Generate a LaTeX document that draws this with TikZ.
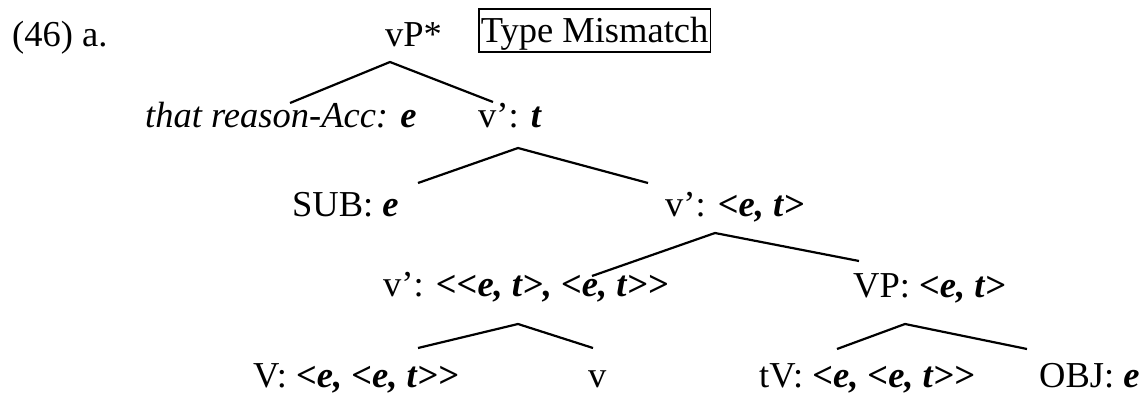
\documentclass[tikz,border=0pt]{standalone}
\usepackage{fontspec}
\setmainfont{Liberation Serif}[Ligatures=TeXOff]
\newcommand{\ty}[1]{\textbf{\textit{#1}}}
\begin{document}
\begin{tikzpicture}[x=1pt,y=-1pt,
  lbl/.style={anchor=base west,inner sep=0pt,font=\fontsize{36.5}{40}\selectfont},
  branch/.style={line width=2.2pt}]
\useasboundingbox (0,0) rectangle (1144,393);
% labels
\node[lbl] (ex) at (12,47) {(46) a.};
\node[lbl] (vP) at (385,47) {vP*};
\node[lbl,draw,line width=1.6pt,inner xsep=2pt,inner ysep=1pt,text height=33pt,text depth=8pt] (tm) at (478,43) {Type Mismatch};
\node[lbl] (reason) at (145,128) {\textit{that reason-Acc:} \ty{e}};
\node[lbl] (vbar1) at (478,128) {v’: \ty{t}};
\node[lbl] (sub) at (292,216) {SUB: \ty{e}};
\node[lbl] (vbar2) at (665,217) {v’: \ty{<e, t>}};
\node[lbl] (vbar3) at (383,296) {v’: \ty{<<e, t>, <e, t>>}};
\node[lbl] (vp) at (853,297) {VP: \ty{<e, t>}};
\node[lbl] (V) at (253,387) {V: \ty{<e, <e, t>>}};
\node[lbl] (v) at (588,387) {v};
\node[lbl] (tV) at (759,387) {tV: \ty{<e, <e, t>>}};
\node[lbl] (obj) at (1039,387) {OBJ: \ty{e}};
% branch points
\coordinate (a1) at (390,62);  \coordinate (l1) at (290,103); \coordinate (r1) at (493,102);
\coordinate (a2) at (518,148); \coordinate (l2) at (418,183); \coordinate (r2) at (648,183);
\coordinate (a3) at (715,233); \coordinate (l3) at (592,276); \coordinate (r3) at (859,261);
\coordinate (a4) at (518,324); \coordinate (l4) at (418,348); \coordinate (r4) at (593,348);
\coordinate (a5) at (905,324); \coordinate (l5) at (837,349); \coordinate (r5) at (1027,349);
\draw[branch] (l1) -- (a1) -- (r1);
\draw[branch] (l2) -- (a2) -- (r2);
\draw[branch] (l3) -- (a3) -- (r3);
\draw[branch] (l4) -- (a4) -- (r4);
\draw[branch] (l5) -- (a5) -- (r5);
\end{tikzpicture}
\end{document}
